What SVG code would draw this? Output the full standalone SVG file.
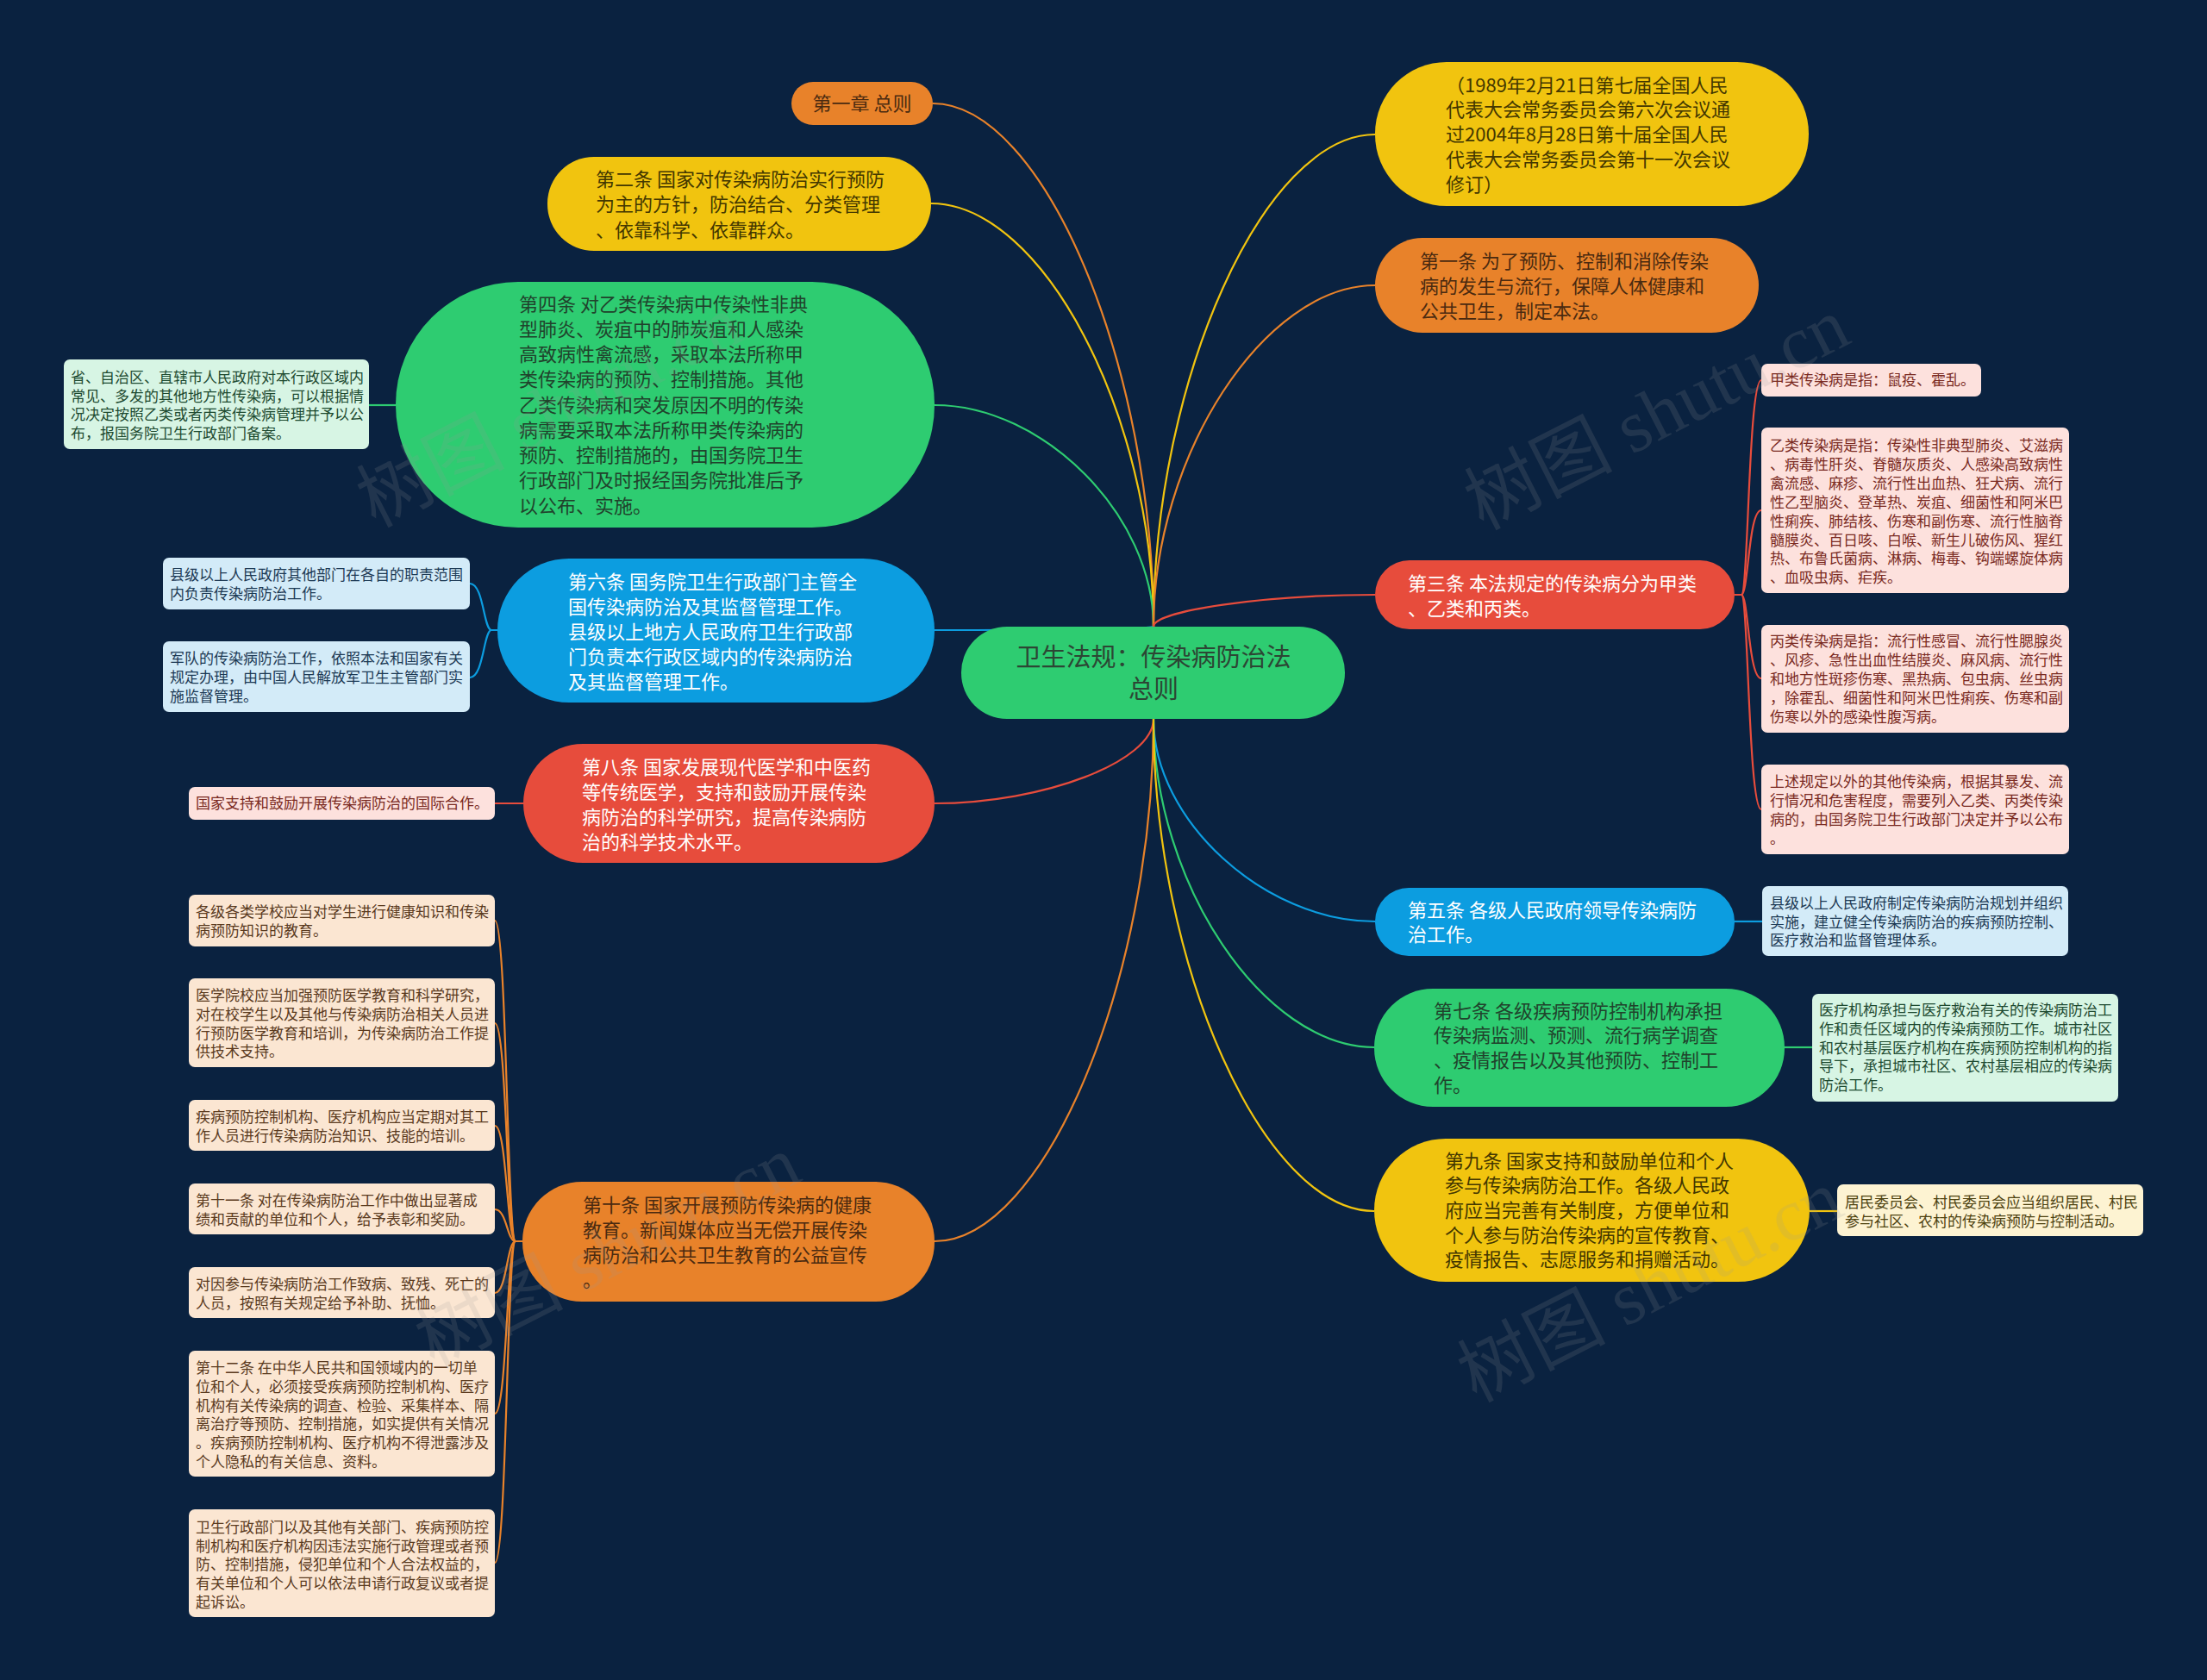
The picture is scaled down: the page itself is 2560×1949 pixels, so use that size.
<svg xmlns="http://www.w3.org/2000/svg" width="2560" height="1949" viewBox="0 0 2560 1949">
<style>
text{font-family:"Noto Sans CJK SC","Noto Sans",sans-serif;}
.m{font-size:22px;}
.s{font-size:17px;}
.r{font-size:29px;}
.cw{fill:#ffffff;}
.cdo{fill:#4a2a10;}
.cdy{fill:#433700;}
.cdg{fill:#20432c;}
.lr{fill:#fde1dd;}
.lb{fill:#d3ebf8;}
.lg{fill:#d7f5e4;}
.lo{fill:#fbe6d2;}
.ly{fill:#fdf3d2;}
.tr{fill:#7a2a22;}
.tb{fill:#1c3954;}
.tg{fill:#1d4a30;}
.to{fill:#5a3a1e;}
.ty{fill:#4d4210;}
.c{fill:none;stroke-width:2.2;}
.wm{font-family:"Liberation Serif","Noto Sans CJK SC",serif;font-size:86px;fill:#9a9a9a;opacity:0.16;}
</style>
<rect width="2560" height="1949" fill="#0a2240"/>

<g id="connectors">
<path class="c" stroke="#e8822a" d="M1338 727 C1338 423.5 1210 120 1082 120"/>
<path class="c" stroke="#f1c40f" d="M1338 727 C1338 481.5 1209 236 1080 236"/>
<path class="c" stroke="#2ecc71" d="M1338 727 C1338 598.5 1211 470 1084 470"/>
<path class="c" stroke="#0c9de0" d="M1338 727 C1338 729 1211 731 1084 731"/>
<path class="c" stroke="#e74c3c" d="M1338 834 C1338 883 1211 932 1084 932"/>
<path class="c" stroke="#e8822a" d="M1338 834 C1338 1137 1211 1440 1084 1440"/>
<path class="c" stroke="#f1c40f" d="M1338 727 C1338 441.5 1466.5 156 1595 156"/>
<path class="c" stroke="#e8822a" d="M1338 727 C1338 529 1466.5 331 1595 331"/>
<path class="c" stroke="#e74c3c" d="M1338 727 C1338 708.5 1466.5 690 1595 690"/>
<path class="c" stroke="#0c9de0" d="M1338 834 C1338 951.5 1466.5 1069 1595 1069"/>
<path class="c" stroke="#2ecc71" d="M1338 834 C1338 1024.5 1466 1215 1594 1215"/>
<path class="c" stroke="#f1c40f" d="M1338 834 C1338 1119.5 1466 1405 1594 1405"/>
<!-- child connectors -->
<path class="c" stroke="#2ecc71" d="M459 470 H428"/>
<path class="c" stroke="#0c9de0" d="M577 731 H570 C561 731 561 677 545 677"/>
<path class="c" stroke="#0c9de0" d="M577 731 H570 C561 731 561 786 545 786"/>
<path class="c" stroke="#e74c3c" d="M607 932 H574"/>
<path class="c" stroke="#e8822a" d="M606 1440 H598 C588 1440 588 1068 574 1068"/>
<path class="c" stroke="#e8822a" d="M606 1440 H598 C588 1440 588 1187 574 1187"/>
<path class="c" stroke="#e8822a" d="M606 1440 H598 C588 1440 588 1306 574 1306"/>
<path class="c" stroke="#e8822a" d="M606 1440 H598 C588 1440 588 1403 574 1403"/>
<path class="c" stroke="#e8822a" d="M606 1440 H598 C588 1440 588 1500 574 1500"/>
<path class="c" stroke="#e8822a" d="M606 1440 H598 C588 1440 588 1640 574 1640"/>
<path class="c" stroke="#e8822a" d="M606 1440 H598 C588 1440 588 1813 574 1813"/>
<path class="c" stroke="#e74c3c" d="M2012 690 H2020 C2028 690 2028 441 2043 441"/>
<path class="c" stroke="#e74c3c" d="M2012 690 H2020 C2028 690 2028 592 2043 592"/>
<path class="c" stroke="#e74c3c" d="M2012 690 H2020 C2028 690 2028 787 2043 787"/>
<path class="c" stroke="#e74c3c" d="M2012 690 H2020 C2028 690 2028 939 2043 939"/>
<path class="c" stroke="#0c9de0" d="M2012 1069 H2044"/>
<path class="c" stroke="#2ecc71" d="M2070 1215 H2102"/>
<path class="c" stroke="#f1c40f" d="M2099 1405 H2131"/>
</g>

<g id="root">
<rect x="1115" y="727" width="445" height="107" rx="53" fill="#2ecc71"/>
<text class="r" fill="#2c4634" text-anchor="middle"><tspan x="1338" y="773">卫生法规：传染病防治法</tspan><tspan x="1338" y="810">总则</tspan></text>
</g>

<g id="n-ch1">
<rect x="918" y="95" width="164" height="50" rx="25" fill="#e8822a"/>
<text class="m cdo" x="1000" y="128" text-anchor="middle">第一章 总则</text>
</g>

<g id="n-art2">
<rect x="635" y="182" width="445" height="109" rx="54" fill="#f1c40f"/>
<text class="m cdy"><tspan x="691" y="216">第二条 国家对传染病防治实行预防</tspan><tspan x="691" y="245.3">为主的方针，防治结合、分类管理</tspan><tspan x="691" y="274.6">、依靠科学、依靠群众。</tspan></text>
</g>

<g id="n-art4">
<rect x="459" y="327" width="625" height="285" rx="142" fill="#2ecc71"/>
<text class="m cdg"><tspan x="602" y="360.5">第四条 对乙类传染病中传染性非典</tspan><tspan x="602" y="389.7">型肺炎、炭疽中的肺炭疽和人感染</tspan><tspan x="602" y="419">高致病性禽流感，采取本法所称甲</tspan><tspan x="602" y="448.2">类传染病的预防、控制措施。其他</tspan><tspan x="602" y="477.5">乙类传染病和突发原因不明的传染</tspan><tspan x="602" y="506.7">病需要采取本法所称甲类传染病的</tspan><tspan x="602" y="536">预防、控制措施的，由国务院卫生</tspan><tspan x="602" y="565.2">行政部门及时报经国务院批准后予</tspan><tspan x="602" y="594.5">以公布、实施。</tspan></text>
</g>

<g id="l-art4-1">
<rect x="74" y="417" width="354" height="104" rx="7" class="lg"/>
<text class="s tg"><tspan x="82" y="444">省、自治区、直辖市人民政府对本行政区域内</tspan><tspan x="82" y="465.7">常见、多发的其他地方性传染病，可以根据情</tspan><tspan x="82" y="487.4">况决定按照乙类或者丙类传染病管理并予以公</tspan><tspan x="82" y="509.1">布，报国务院卫生行政部门备案。</tspan></text>
</g>

<g id="n-art6">
<rect x="577" y="648" width="507" height="167" rx="83" fill="#0c9de0"/>
<text class="m cw"><tspan x="659" y="682.5">第六条 国务院卫生行政部门主管全</tspan><tspan x="659" y="711.5">国传染病防治及其监督管理工作。</tspan><tspan x="659" y="740.5">县级以上地方人民政府卫生行政部</tspan><tspan x="659" y="769.5">门负责本行政区域内的传染病防治</tspan><tspan x="659" y="798.5">及其监督管理工作。</tspan></text>
</g>

<g id="l-art6-1">
<rect x="189" y="647" width="356" height="60" rx="7" class="lb"/>
<text class="s tb"><tspan x="197" y="673">县级以上人民政府其他部门在各自的职责范围</tspan><tspan x="197" y="695">内负责传染病防治工作。</tspan></text>
</g>
<g id="l-art6-2">
<rect x="189" y="744" width="356" height="82" rx="7" class="lb"/>
<text class="s tb"><tspan x="197" y="770">军队的传染病防治工作，依照本法和国家有关</tspan><tspan x="197" y="792">规定办理，由中国人民解放军卫生主管部门实</tspan><tspan x="197" y="814">施监督管理。</tspan></text>
</g>

<g id="n-art8">
<rect x="607" y="863" width="477" height="138" rx="69" fill="#e74c3c"/>
<text class="m cw"><tspan x="675" y="897.5">第八条 国家发展现代医学和中医药</tspan><tspan x="675" y="926.5">等传统医学，支持和鼓励开展传染</tspan><tspan x="675" y="955.5">病防治的科学研究，提高传染病防</tspan><tspan x="675" y="984.5">治的科学技术水平。</tspan></text>
</g>
<g id="l-art8-1">
<rect x="219" y="913" width="355" height="38" rx="7" class="lr"/>
<text class="s tr" x="227" y="938">国家支持和鼓励开展传染病防治的国际合作。</text>
</g>

<g id="n-art10">
<rect x="606" y="1371" width="478" height="139" rx="69" fill="#e8822a"/>
<text class="m cdo"><tspan x="676" y="1405.5">第十条 国家开展预防传染病的健康</tspan><tspan x="676" y="1434.5">教育。新闻媒体应当无偿开展传染</tspan><tspan x="676" y="1463.5">病防治和公共卫生教育的公益宣传</tspan><tspan x="676" y="1492.5">。</tspan></text>
</g>
<g id="l-art10-1">
<rect x="219" y="1038" width="355" height="60" rx="7" class="lo"/>
<text class="s to"><tspan x="227" y="1064">各级各类学校应当对学生进行健康知识和传染</tspan><tspan x="227" y="1086">病预防知识的教育。</tspan></text>
</g>
<g id="l-art10-2">
<rect x="219" y="1135" width="355" height="103" rx="7" class="lo"/>
<text class="s to"><tspan x="227" y="1161">医学院校应当加强预防医学教育和科学研究，</tspan><tspan x="227" y="1183">对在校学生以及其他与传染病防治相关人员进</tspan><tspan x="227" y="1204.5">行预防医学教育和培训，为传染病防治工作提</tspan><tspan x="227" y="1226">供技术支持。</tspan></text>
</g>
<g id="l-art10-3">
<rect x="219" y="1276" width="355" height="59" rx="7" class="lo"/>
<text class="s to"><tspan x="227" y="1302">疾病预防控制机构、医疗机构应当定期对其工</tspan><tspan x="227" y="1323.5">作人员进行传染病防治知识、技能的培训。</tspan></text>
</g>
<g id="l-art10-4">
<rect x="219" y="1373" width="355" height="59" rx="7" class="lo"/>
<text class="s to"><tspan x="227" y="1399">第十一条 对在传染病防治工作中做出显著成</tspan><tspan x="227" y="1420.5">绩和贡献的单位和个人，给予表彰和奖励。</tspan></text>
</g>
<g id="l-art10-5">
<rect x="219" y="1470" width="355" height="59" rx="7" class="lo"/>
<text class="s to"><tspan x="227" y="1496">对因参与传染病防治工作致病、致残、死亡的</tspan><tspan x="227" y="1517.5">人员，按照有关规定给予补助、抚恤。</tspan></text>
</g>
<g id="l-art10-6">
<rect x="219" y="1567" width="355" height="146" rx="7" class="lo"/>
<text class="s to"><tspan x="227" y="1593">第十二条 在中华人民共和国领域内的一切单</tspan><tspan x="227" y="1614.8">位和个人，必须接受疾病预防控制机构、医疗</tspan><tspan x="227" y="1636.6">机构有关传染病的调查、检验、采集样本、隔</tspan><tspan x="227" y="1658.4">离治疗等预防、控制措施，如实提供有关情况</tspan><tspan x="227" y="1680.2">。疾病预防控制机构、医疗机构不得泄露涉及</tspan><tspan x="227" y="1702">个人隐私的有关信息、资料。</tspan></text>
</g>
<g id="l-art10-7">
<rect x="219" y="1751" width="355" height="125" rx="7" class="lo"/>
<text class="s to"><tspan x="227" y="1778">卫生行政部门以及其他有关部门、疾病预防控</tspan><tspan x="227" y="1799.7">制机构和医疗机构因违法实施行政管理或者预</tspan><tspan x="227" y="1821.4">防、控制措施，侵犯单位和个人合法权益的，</tspan><tspan x="227" y="1843.1">有关单位和个人可以依法申请行政复议或者提</tspan><tspan x="227" y="1864.8">起诉讼。</tspan></text>
</g>

<g id="n-preface">
<rect x="1595" y="72" width="503" height="167" rx="83" fill="#f1c40f"/>
<text class="m cdy"><tspan x="1677" y="106.5">（1989年2月21日第七届全国人民</tspan><tspan x="1677" y="135.3">代表大会常务委员会第六次会议通</tspan><tspan x="1677" y="164.1">过2004年8月28日第十届全国人民</tspan><tspan x="1677" y="192.9">代表大会常务委员会第十一次会议</tspan><tspan x="1677" y="221.7">修订）</tspan></text>
</g>

<g id="n-art1">
<rect x="1595" y="276" width="445" height="110" rx="55" fill="#e8822a"/>
<text class="m cdo"><tspan x="1647" y="311">第一条 为了预防、控制和消除传染</tspan><tspan x="1647" y="340">病的发生与流行，保障人体健康和</tspan><tspan x="1647" y="369">公共卫生，制定本法。</tspan></text>
</g>

<g id="n-art3">
<rect x="1595" y="650" width="417" height="80" rx="40" fill="#e74c3c"/>
<text class="m cw"><tspan x="1633" y="684.5">第三条 本法规定的传染病分为甲类</tspan><tspan x="1633" y="714">、乙类和丙类。</tspan></text>
</g>
<g id="l-art3-1">
<rect x="2043" y="422" width="255" height="38" rx="7" class="lr"/>
<text class="s tr" x="2053" y="447">甲类传染病是指：鼠疫、霍乱。</text>
</g>
<g id="l-art3-2">
<rect x="2043" y="496" width="357" height="192" rx="7" class="lr"/>
<text class="s tr"><tspan x="2053" y="523">乙类传染病是指：传染性非典型肺炎、艾滋病</tspan><tspan x="2053" y="544.9">、病毒性肝炎、脊髓灰质炎、人感染高致病性</tspan><tspan x="2053" y="566.8">禽流感、麻疹、流行性出血热、狂犬病、流行</tspan><tspan x="2053" y="588.7">性乙型脑炎、登革热、炭疽、细菌性和阿米巴</tspan><tspan x="2053" y="610.6">性痢疾、肺结核、伤寒和副伤寒、流行性脑脊</tspan><tspan x="2053" y="632.5">髓膜炎、百日咳、白喉、新生儿破伤风、猩红</tspan><tspan x="2053" y="654.4">热、布鲁氏菌病、淋病、梅毒、钩端螺旋体病</tspan><tspan x="2053" y="676.3">、血吸虫病、疟疾。</tspan></text>
</g>
<g id="l-art3-3">
<rect x="2043" y="725" width="357" height="125" rx="7" class="lr"/>
<text class="s tr"><tspan x="2053" y="750">丙类传染病是指：流行性感冒、流行性腮腺炎</tspan><tspan x="2053" y="771.9">、风疹、急性出血性结膜炎、麻风病、流行性</tspan><tspan x="2053" y="793.8">和地方性斑疹伤寒、黑热病、包虫病、丝虫病</tspan><tspan x="2053" y="815.7">，除霍乱、细菌性和阿米巴性痢疾、伤寒和副</tspan><tspan x="2053" y="837.6">伤寒以外的感染性腹泻病。</tspan></text>
</g>
<g id="l-art3-4">
<rect x="2043" y="887" width="357" height="104" rx="7" class="lr"/>
<text class="s tr"><tspan x="2053" y="913">上述规定以外的其他传染病，根据其暴发、流</tspan><tspan x="2053" y="935">行情况和危害程度，需要列入乙类、丙类传染</tspan><tspan x="2053" y="957">病的，由国务院卫生行政部门决定并予以公布</tspan><tspan x="2053" y="979">。</tspan></text>
</g>

<g id="n-art5">
<rect x="1595" y="1030" width="417" height="79" rx="39" fill="#0c9de0"/>
<text class="m cw"><tspan x="1633" y="1063.5">第五条 各级人民政府领导传染病防</tspan><tspan x="1633" y="1092">治工作。</tspan></text>
</g>
<g id="l-art5-1">
<rect x="2044" y="1028" width="355" height="81" rx="7" class="lb"/>
<text class="s tb"><tspan x="2053" y="1054">县级以上人民政府制定传染病防治规划并组织</tspan><tspan x="2053" y="1075.7">实施，建立健全传染病防治的疾病预防控制、</tspan><tspan x="2053" y="1097.4">医疗救治和监督管理体系。</tspan></text>
</g>

<g id="n-art7">
<rect x="1594" y="1147" width="476" height="137" rx="68" fill="#2ecc71"/>
<text class="m cdg"><tspan x="1663" y="1180.5">第七条 各级疾病预防控制机构承担</tspan><tspan x="1663" y="1209.2">传染病监测、预测、流行病学调查</tspan><tspan x="1663" y="1237.9">、疫情报告以及其他预防、控制工</tspan><tspan x="1663" y="1266.6">作。</tspan></text>
</g>
<g id="l-art7-1">
<rect x="2102" y="1153" width="355" height="125" rx="7" class="lg"/>
<text class="s tg"><tspan x="2110" y="1178">医疗机构承担与医疗救治有关的传染病防治工</tspan><tspan x="2110" y="1199.8">作和责任区域内的传染病预防工作。城市社区</tspan><tspan x="2110" y="1221.6">和农村基层医疗机构在疾病预防控制机构的指</tspan><tspan x="2110" y="1243.4">导下，承担城市社区、农村基层相应的传染病</tspan><tspan x="2110" y="1265.2">防治工作。</tspan></text>
</g>

<g id="n-art9">
<rect x="1594" y="1321" width="505" height="166" rx="83" fill="#f1c40f"/>
<text class="m cdy"><tspan x="1676" y="1354.5">第九条 国家支持和鼓励单位和个人</tspan><tspan x="1676" y="1383.2">参与传染病防治工作。各级人民政</tspan><tspan x="1676" y="1411.9">府应当完善有关制度，方便单位和</tspan><tspan x="1676" y="1440.6">个人参与防治传染病的宣传教育、</tspan><tspan x="1676" y="1469.3">疫情报告、志愿服务和捐赠活动。</tspan></text>
</g>
<g id="l-art9-1">
<rect x="2131" y="1374" width="355" height="60" rx="7" class="ly"/>
<text class="s ty"><tspan x="2140" y="1401">居民委员会、村民委员会应当组织居民、村民</tspan><tspan x="2140" y="1423">参与社区、农村的传染病预防与控制活动。</tspan></text>
</g>

<g id="watermarks">
<text class="wm" transform="translate(650 503) rotate(-27)" text-anchor="middle">树图 shutu.cn</text>
<text class="wm" transform="translate(1935 506) rotate(-27)" text-anchor="middle">树图 shutu.cn</text>
<text class="wm" transform="translate(718 1478) rotate(-27)" text-anchor="middle">树图 shutu.cn</text>
<text class="wm" transform="translate(1927 1518) rotate(-27)" text-anchor="middle">树图 shutu.cn</text>
</g>
</svg>
